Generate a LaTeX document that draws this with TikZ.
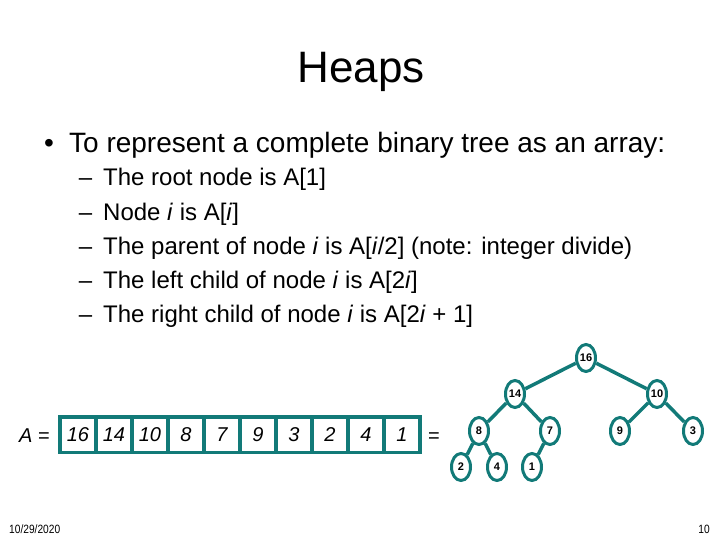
\documentclass[tikz,border=0pt]{standalone}
\usepackage{fontspec}
\setmainfont{Liberation Sans}
\usepackage{tikz}
\usetikzlibrary{shapes.geometric, positioning}
\definecolor{heapteal}{RGB}{18,122,120}

\begin{document}
\begin{tikzpicture}[
        x=1pt, y=-1pt,
        txt/.style={inner sep=0pt, anchor=base west},
        mark1/.style={inner sep=0pt, anchor=base, font=\fontsize{28}{30}\selectfont},
        mark2/.style={inner sep=0pt, anchor=base, font=\fontsize{24}{26}\selectfont},
        line1/.style={txt, font=\fontsize{28}{30}\selectfont},
        line2/.style={txt, font=\fontsize{24}{26}\selectfont},
        cell/.style={rectangle, draw=heapteal, line width=3.5pt, minimum width=36pt, minimum height=35.5pt, outer sep=0pt, inner sep=0pt, font=\fontsize{20}{24}\selectfont\itshape},
        heapnode/.style={ellipse, draw=heapteal, line width=3pt, minimum width=19pt, minimum height=27pt, inner sep=0pt, font=\fontsize{11}{13}\selectfont\bfseries},
        treeline/.style={draw=heapteal, line width=3.5pt},
        node distance=0pt
    ]
    \useasboundingbox (0,0) rectangle (720,540);

    \node (title) [inner sep=0pt, anchor=base, font=\fontsize{44}{46}\selectfont] at (361,83) {Heaps};

    \node (dot) [mark1] at (49,153) {•};
    \node (intro) [line1] at (69,153) {To represent a complete binary tree as an array:};

    \node (d1) [mark2] at (85.5,186) {–};
    \node (root) [line2] at (103,186) {The root node is A[1]};
    \node (d2) [mark2] at (85.5,220.5) {–};
    \node (nodei) [line2] at (103,220.5) {Node \textit{i} is A[\textit{i}]};
    \node (d3) [mark2] at (85.5,254.5) {–};
    \node (parent) [line2] at (103,254.5) {The parent of node \textit{i} is A[\textit{i}/2] (note: integer divide)};
    \node (d4) [mark2] at (85.5,288.5) {–};
    \node (left) [line2] at (103,288.5) {The left child of node \textit{i} is A[2\textit{i}]};
    \node (d5) [mark2] at (85.5,322.5) {–};
    \node (right) [line2] at (103,322.5) {The right child of node \textit{i} is A[2\textit{i} + 1]};

    % array
    \node (c1) [cell] at (78,434.5) {16};
    \node (c2) [cell, right=of c1] {14};
    \node (c3) [cell, right=of c2] {10};
    \node (c4) [cell, right=of c3] {8};
    \node (c5) [cell, right=of c4] {7};
    \node (c6) [cell, right=of c5] {9};
    \node (c7) [cell, right=of c6] {3};
    \node (c8) [cell, right=of c7] {2};
    \node (c9) [cell, right=of c8] {4};
    \node (c10) [cell, right=of c9] {1};
    \node (aname) [inner sep=0pt, anchor=base east, font=\fontsize{20}{24}\selectfont] at (50,442) {\textit{A} =};
    \node (eq) [inner sep=0pt, anchor=base west, font=\fontsize{20}{24}\selectfont] at (428,442) {=};

    % tree
    \node (n16) [heapnode] at (586,358) {16};
    \node (n14) [heapnode] at (515,394) {14};
    \node (n10) [heapnode] at (657,394) {10};
    \node (n8) [heapnode] at (479,431) {8};
    \node (n7) [heapnode] at (550,431) {7};
    \node (n9) [heapnode] at (620,431) {9};
    \node (n3) [heapnode] at (693,431) {3};
    \node (n2) [heapnode] at (461,467) {2};
    \node (n4) [heapnode] at (497,467) {4};
    \node (n1) [heapnode] at (532,467) {1};

    \draw[treeline] (n16) -- (n14);
    \draw[treeline] (n16) -- (n10);
    \draw[treeline] (n14) -- (n8);
    \draw[treeline] (n14) -- (n7);
    \draw[treeline] (n10) -- (n9);
    \draw[treeline] (n10) -- (n3);
    \draw[treeline] (n8) -- (n2);
    \draw[treeline] (n8) -- (n4);
    \draw[treeline] (n7) -- (n1);

    \node (date) [txt, font=\fontsize{12}{14}\selectfont] at (9,533) {\scalebox{0.85}[1]{10/29/2020}};
    \node (page) [inner sep=0pt, anchor=base east, font=\fontsize{12}{14}\selectfont] at (710,533) {\scalebox{0.85}[1]{10}};

\end{tikzpicture}
\end{document}
